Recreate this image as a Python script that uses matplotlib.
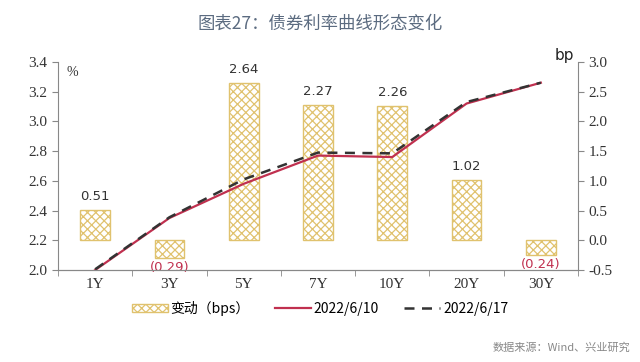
import matplotlib
matplotlib.use("Agg")
import matplotlib.pyplot as plt
import numpy as np

plt.rcParams['font.family'] = ['Noto Sans CJK SC', 'DejaVu Sans']
plt.rcParams['hatch.linewidth'] = 0.9

tenors = ["1Y", "3Y", "5Y", "7Y", "10Y", "20Y", "30Y"]
change_bps = [0.51, -0.29, 2.64, 2.27, 2.26, 1.02, -0.24]
y_0610 = [2.00, 2.35, 2.58, 2.77, 2.76, 3.12, 3.26]
y_0617 = [2.005, 2.355, 2.61, 2.79, 2.785, 3.13, 3.26]

x = np.arange(len(tenors))
serif = "Liberation Serif"
gold = "#E0C26E"
red = "#C0304F"
axcol = "#888888"

fig = plt.figure(figsize=(6.4, 3.62), dpi=100)
ax = fig.add_axes([0.0906, 0.254, 0.8125, 0.575])
ax2 = ax.twinx()

# bars on right axis
bars = ax2.bar(x, change_bps, width=0.4, facecolor="white", edgecolor=gold,
               hatch="xxxx", linewidth=1.0, label="变动（bps）")
for xi, v in zip(x, change_bps):
    if v >= 0:
        ax2.text(xi, v + 0.12, f"{v:.2f}", ha="center", va="bottom",
                 fontsize=9.5, color="#333333", family="DejaVu Sans")
    else:
        ax2.text(xi, v - 0.06, f"({abs(v):.2f})", ha="center", va="top",
                 fontsize=9.5, color="#C0304F", family="DejaVu Sans")

ax2.set_ylim(-0.5, 3.0)
ax2.set_yticks(np.arange(-0.5, 3.01, 0.5))
ax2.set_yticklabels([f"{t:.1f}" for t in np.arange(-0.5, 3.01, 0.5)])

# lines on left axis, drawn above bars
ax.set_zorder(ax2.get_zorder() + 1)
ax.patch.set_visible(False)
l1, = ax.plot(x, y_0610, color=red, lw=1.6, label="2022/6/10")
l2, = ax.plot(x, y_0617, color="#333333", lw=1.8, ls=(0, (4, 3)), label="2022/6/17")

ax.set_ylim(2.0, 3.4)
ax.set_yticks(np.arange(2.0, 3.41, 0.2))
ax.set_yticklabels([f"{t:.1f}" for t in np.arange(2.0, 3.41, 0.2)])
ax.set_xlim(-0.5, len(tenors) - 0.5)
ax.set_xticks(x)
ax.set_xticklabels(tenors)
ax.set_xticks(np.arange(-0.5, len(tenors), 1.0), minor=True)
ax.tick_params(axis="x", which="major", length=0, pad=6)
ax.tick_params(axis="x", which="minor", length=4, color=axcol)

for a in (ax, ax2):
    a.spines["top"].set_visible(False)
    for s in ("left", "right", "bottom"):
        a.spines[s].set_color(axcol)
    a.tick_params(axis="y", length=4, color=axcol, labelsize=11)
    for lab in a.get_yticklabels():
        lab.set_family(serif)
        lab.set_color("#333333")
ax2.spines["left"].set_visible(False)
ax.spines["right"].set_visible(False)
for lab in ax.get_xticklabels():
    lab.set_family(serif)
    lab.set_fontsize(11)
    lab.set_color("#333333")

ax.text(0.017, 0.93, "%", transform=ax.transAxes, fontsize=10, family=serif, color="#333333")
ax2.text(0.955, 0.995, "bp", transform=ax.transAxes, fontsize=11, color="#222222",
         family="DejaVu Sans", va="bottom")

fig.text(0.5, 0.935, "图表27：债券利率曲线形态变化", ha="center", va="center",
         fontsize=12.5, color="#5B6B80")

fig.legend([bars, l1, l2], ["变动（bps）", "2022/6/10", "2022/6/17"],
           loc="center", bbox_to_anchor=(0.5, 0.148), ncol=3, frameon=False,
           fontsize=10, handlelength=2.6, columnspacing=1.8, handletextpad=0.2,
           handleheight=0.5)

fig.text(0.985, 0.04, "数据来源：Wind、兴业研究", ha="right", va="center",
         fontsize=8, color="#888888")

fig.savefig("out.png", dpi=100)
